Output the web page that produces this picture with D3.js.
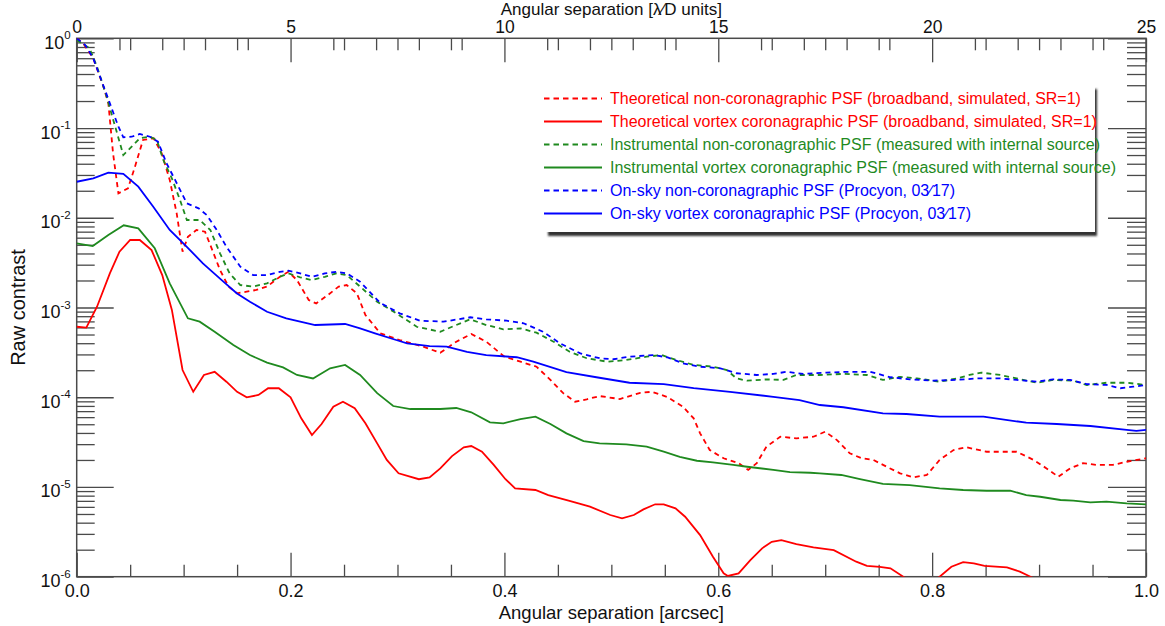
<!DOCTYPE html>
<html>
<head>
<meta charset="utf-8">
<script src="https://cdn.jsdelivr.net/npm/d3@7"></script>
<style>
  body { margin: 0; background: #fff; }
  svg { display: block; font-family: "Liberation Sans", Arial, Helvetica, sans-serif; }
  .axis path { display: none; }
  .axis line { stroke: #4a4a4a; stroke-width: 1.3; }
  .axis text { fill: #111; font-family: "Liberation Sans", Arial, sans-serif; }
</style>
</head>
<body>
<div id="chart"></div>
<script>
// values: [separation (arcsec), raw contrast]
var theoNonCoro = [[0,1.0],[0.006,0.88],[0.0155,0.598],[0.025,0.289],[0.0296,0.189],[0.034,0.0523],[0.039,0.0187],
  [0.048,0.0213],[0.0545,0.0371],[0.062,0.0736],[0.072,0.0769],[0.0795,0.0523],[0.087,0.0264],[0.0935,0.0112],
  [0.099,0.00419],[0.104,0.00615],[0.112,0.00731],[0.120,0.0070],[0.128,0.00402],[0.134,0.00262],[0.142,0.00171],
  [0.150,0.00144],[0.159,0.0015],[0.168,0.00157],[0.178,0.00171],[0.190,0.0022],[0.198,0.0025],[0.206,0.00202],
  [0.217,0.00121],[0.224,0.00111],[0.235,0.00138],[0.245,0.00171],[0.2525,0.00178],[0.262,0.00144],[0.270,8.24e-4],
  [0.284,5.15e-4],[0.302,4.34e-4],[0.324,3.66e-4],[0.340,3.13e-4],[0.355,4.16e-4],[0.369,5.07e-4],[0.383,4.16e-4],
  [0.400,2.83e-4],[0.415,2.49e-4],[0.430,2.19e-4],[0.443,1.56e-4],[0.455,1.11e-4],[0.466,8.91e-5],[0.477,9.48e-5],
  [0.489,1.03e-4],[0.508,9.55e-5],[0.527,1.12e-4],[0.538,1.15e-4],[0.552,1.01e-4],[0.567,7.84e-5],[0.577,5.82e-5],
  [0.583,3.96e-5],[0.592,2.58e-5],[0.605,2.09e-5],[0.619,1.84e-5],[0.628,1.55e-5],[0.636,1.84e-5],[0.645,2.81e-5],
  [0.658,3.63e-5],[0.673,3.48e-5],[0.689,3.63e-5],[0.700,4.13e-5],[0.711,3.33e-5],[0.723,2.37e-5],[0.734,2.09e-5],
  [0.745,2.0e-5],[0.7575,1.68e-5],[0.770,1.42e-5],[0.782,1.28e-5],[0.795,1.36e-5],[0.807,2.0e-5],[0.820,2.58e-5],
  [0.832,2.77e-5],[0.851,2.47e-5],[0.879,2.47e-5],[0.895,2.0e-5],[0.907,1.61e-5],[0.918,1.30e-5],[0.929,1.61e-5],
  [0.941,1.84e-5],[0.954,1.76e-5],[0.969,1.76e-5],[0.982,1.91e-5],[1.0,2.09e-5]];

var theoVortex = [[0,6.1e-4],[0.009,5.96e-4],[0.019,1.02e-3],[0.031,2.4e-3],[0.040,4.19e-3],[0.050,5.65e-3],
  [0.059,5.65e-3],[0.070,4.37e-3],[0.080,2.30e-3],[0.089,9.4e-4],[0.099,2.01e-4],[0.109,1.15e-4],[0.119,1.77e-4],
  [0.129,1.92e-4],[0.140,1.49e-4],[0.150,1.15e-4],[0.159,9.97e-5],[0.170,1.06e-4],[0.179,1.26e-4],[0.189,1.26e-4],
  [0.200,9.97e-5],[0.210,5.82e-5],[0.220,3.79e-5],[0.229,5.03e-5],[0.240,7.84e-5],[0.249,8.91e-5],[0.260,7.53e-5],
  [0.270,5.12e-5],[0.281,3.06e-5],[0.290,2.0e-5],[0.301,1.42e-5],[0.320,1.22e-5],[0.330,1.28e-5],[0.340,1.61e-5],
  [0.351,2.21e-5],[0.362,2.77e-5],[0.369,2.86e-5],[0.379,2.47e-5],[0.390,1.76e-5],[0.401,1.22e-5],[0.410,9.66e-6],
  [0.429,9.25e-6],[0.441,8.13e-6],[0.460,7.03e-6],[0.480,6.03e-6],[0.499,4.87e-6],[0.510,4.47e-6],[0.521,4.87e-6],
  [0.530,5.63e-6],[0.541,6.41e-6],[0.549,6.41e-6],[0.560,5.78e-6],[0.569,4.66e-6],[0.583,2.91e-6],[0.595,1.67e-6],
  [0.605,1.09e-6],[0.609,1.02e-6],[0.619,1.09e-6],[0.630,1.53e-6],[0.641,2.07e-6],[0.650,2.45e-6],[0.659,2.56e-6],
  [0.673,2.31e-6],[0.689,2.12e-6],[0.708,1.98e-6],[0.729,1.47e-6],[0.739,1.32e-6],[0.751,1.29e-6],[0.761,1.24e-6],
  [0.773,1.0e-6],[0.790,7.5e-7],[0.807,1.0e-6],[0.818,1.29e-6],[0.829,1.45e-6],[0.839,1.41e-6],[0.849,1.32e-6],
  [0.870,1.27e-6],[0.882,1.14e-6],[0.892,1.0e-6],[0.920,7e-7],[0.960,6e-7],[1.0,7e-7]];

var instNonCoro = [[0,0.957],[0.012,0.774],[0.019,0.483],[0.028,0.2235],[0.036,0.1035],[0.0436,0.050],[0.0514,0.0619],
  [0.059,0.0769],[0.0685,0.080],[0.075,0.0736],[0.081,0.044],[0.089,0.0275],[0.0966,0.0158],[0.103,0.00944],
  [0.115,0.00944],[0.125,0.00731],[0.134,0.00402],[0.143,0.0024],[0.153,0.00178],[0.165,0.00171],[0.178,0.00186],
  [0.190,0.0022],[0.198,0.0024],[0.209,0.00217],[0.220,0.00202],[0.232,0.0022],[0.243,0.0024],[0.2525,0.0023],
  [0.265,0.00171],[0.281,0.00116],[0.299,8.61e-4],[0.318,6.1e-4],[0.340,5.37e-4],[0.355,6.38e-4],[0.368,7.38e-4],
  [0.383,6.38e-4],[0.399,5.71e-4],[0.415,5.86e-4],[0.430,5.24e-4],[0.446,4.16e-4],[0.461,3.21e-4],[0.477,2.72e-4],
  [0.496,2.49e-4],[0.514,2.60e-4],[0.533,2.83e-4],[0.547,2.95e-4],[0.561,2.60e-4],[0.577,2.29e-4],[0.595,2.19e-4],
  [0.608,2.01e-4],[0.617,1.62e-4],[0.627,1.53e-4],[0.645,1.58e-4],[0.661,1.56e-4],[0.673,1.77e-4],[0.695,1.77e-4],
  [0.717,1.82e-4],[0.739,1.77e-4],[0.754,1.56e-4],[0.770,1.69e-4],[0.786,1.62e-4],[0.807,1.49e-4],[0.823,1.62e-4],
  [0.835,1.77e-4],[0.846,1.88e-4],[0.8635,1.77e-4],[0.879,1.62e-4],[0.898,1.45e-4],[0.913,1.56e-4],[0.932,1.53e-4],
  [0.9445,1.37e-4],[0.963,1.45e-4],[0.982,1.45e-4],[1.0,1.37e-4]];

var instVortex = [[0,5.19e-3],[0.015,4.84e-3],[0.0296,6.43e-3],[0.044,8.24e-3],[0.0576,7.63e-3],[0.073,4.57e-3],
  [0.087,1.86e-3],[0.104,7.58e-4],[0.115,6.95e-4],[0.129,5.37e-4],[0.1465,3.82e-4],[0.162,2.95e-4],[0.178,2.43e-4],
  [0.193,2.15e-4],[0.206,1.77e-4],[0.221,1.62e-4],[0.237,2.10e-4],[0.251,2.29e-4],[0.265,1.77e-4],[0.281,1.11e-4],
  [0.296,7.98e-5],[0.312,7.39e-5],[0.340,7.39e-5],[0.355,7.59e-5],[0.369,6.79e-5],[0.3865,5.25e-5],[0.399,5.12e-5],
  [0.415,5.71e-5],[0.429,6.07e-5],[0.443,5.03e-5],[0.458,3.96e-5],[0.474,3.25e-5],[0.489,3.06e-5],[0.514,2.99e-5],
  [0.533,2.81e-5],[0.549,2.47e-5],[0.564,2.17e-5],[0.580,1.96e-5],[0.595,1.88e-5],[0.614,1.76e-5],[0.627,1.68e-5],
  [0.6515,1.55e-5],[0.667,1.46e-5],[0.686,1.44e-5],[0.695,1.42e-5],[0.715,1.36e-5],[0.7325,1.22e-5],[0.754,1.08e-5],
  [0.779,1.05e-5],[0.807,9.66e-6],[0.829,9.25e-6],[0.851,9.08e-6],[0.873,9.08e-6],[0.888,8.13e-6],[0.901,7.78e-6],
  [0.920,7.16e-6],[0.932,7.03e-6],[0.948,6.75e-6],[0.963,6.85e-6],[0.982,6.58e-6],[1.0,6.41e-6]];

var skyNonCoro = [[0,1.0],[0.008,0.842],[0.0155,0.598],[0.023,0.343],[0.031,0.189],[0.039,0.1035],[0.0436,0.0789],
  [0.0514,0.080],[0.059,0.0858],[0.0685,0.080],[0.076,0.0704],[0.084,0.0405],[0.092,0.0264],[0.103,0.0145],
  [0.114,0.01274],[0.1216,0.01074],[0.131,0.00731],[0.140,0.00475],[0.153,0.00285],[0.165,0.0023],[0.178,0.0023],
  [0.190,0.0025],[0.198,0.00257],[0.209,0.0024],[0.220,0.0022],[0.232,0.0024],[0.243,0.0025],[0.2525,0.0024],
  [0.265,0.00194],[0.2836,1.13e-3],[0.302,8.61e-4],[0.321,7.13e-4],[0.343,6.95e-4],[0.368,7.78e-4],[0.383,7.38e-4],
  [0.402,7.13e-4],[0.418,6.67e-4],[0.436,5.37e-4],[0.452,3.99e-4],[0.471,3.08e-4],[0.489,2.72e-4],[0.502,2.65e-4],
  [0.517,2.83e-4],[0.539,2.95e-4],[0.552,2.79e-4],[0.567,2.39e-4],[0.583,2.19e-4],[0.602,2.10e-4],[0.617,1.85e-4],
  [0.636,1.77e-4],[0.6515,1.82e-4],[0.664,1.92e-4],[0.6795,1.82e-4],[0.701,1.88e-4],[0.720,1.92e-4],[0.742,1.92e-4],
  [0.761,1.67e-4],[0.779,1.58e-4],[0.801,1.53e-4],[0.823,1.56e-4],[0.842,1.62e-4],[0.8635,1.62e-4],[0.879,1.56e-4],
  [0.898,1.49e-4],[0.913,1.58e-4],[0.929,1.56e-4],[0.9445,1.40e-4],[0.963,1.37e-4],[0.976,1.26e-4],[0.988,1.31e-4],
  [1.0,1.37e-4]];

var skyVortex = [[0,0.0252],[0.0155,0.0275],[0.0296,0.0318],[0.0436,0.0308],[0.0576,0.0222],[0.0716,0.01327],
  [0.087,0.00731],[0.103,0.00475],[0.118,0.0031],[0.1356,0.00202],[0.1496,0.00144],[0.162,0.00116],[0.178,8.97e-4],
  [0.196,7.58e-4],[0.209,6.95e-4],[0.223,6.38e-4],[0.251,6.55e-4],[0.265,5.86e-4],[0.279,5.15e-4],[0.301,4.26e-4],
  [0.309,3.99e-4],[0.330,3.72e-4],[0.346,3.66e-4],[0.365,3.21e-4],[0.383,2.95e-4],[0.4115,2.79e-4],[0.427,2.49e-4],
  [0.458,1.90e-4],[0.486,1.67e-4],[0.517,1.45e-4],[0.549,1.40e-4],[0.577,1.26e-4],[0.611,1.15e-4],[0.6515,1.01e-4],
  [0.676,9.31e-5],[0.695,8.19e-5],[0.717,7.73e-5],[0.754,6.62e-5],[0.776,6.50e-5],[0.807,6.07e-5],[0.848,6.07e-5],
  [0.888,5.20e-5],[0.9165,5.03e-5],[0.948,4.78e-5],[0.982,4.32e-5],[0.991,4.21e-5],[1.0,4.32e-5]];

var seriesData = [theoNonCoro, theoVortex, instNonCoro, instVortex, skyNonCoro, skyVortex];
var legendLabels = [
  'Theoretical non-coronagraphic PSF (broadband, simulated, SR=1)',
  'Theoretical vortex coronagraphic PSF (broadband, simulated, SR=1)',
  'Instrumental non-coronagraphic PSF (measured with internal source)',
  'Instrumental vortex coronagraphic PSF (measured with internal source)',
  'On-sky non-coronagraphic PSF (Procyon, 03\u221517)',
  'On-sky vortex coronagraphic PSF (Procyon, 03\u221517)'
];
var seriesColors = ['#ff0000', '#ff0000', '#1f8a1f', '#1f8a1f', '#0000ff', '#0000ff'];
var seriesDashed = [true, false, true, false, true, false];

var xMajorTicks = [0, 0.2, 0.4, 0.6, 0.8, 1.0];
var topMajorTicks = [0, 5, 10, 15, 20, 25];
var yDecades = [1e-6, 1e-5, 1e-4, 1e-3, 1e-2, 1e-1, 1];

var width = 1165, height = 626;
var x0 = 76.7, x1 = 1146, y0 = 38.3, y1 = 576.7;

var svg = d3.select('#chart')
  .append('svg')
  .attr('width', width)
  .attr('height', height);

var x = d3.scaleLinear().domain([0, 1]).range([x0, x1]);
var xLd = d3.scaleLinear().domain([0, 25]).range([x0, x1]);
var y = d3.scaleLog().domain([1e-6, 1]).range([y1, y0]);

// minor tick values
var xMinor = d3.range(1, 20).map(function(i) { return i * 0.05; })
  .filter(function(d, i) { return (i + 1) % 4 !== 0; });
var ldMinor = d3.range(1, 25).filter(function(d) { return d % 5 !== 0; });
var yMinor = [];
for (var k = -6; k < 0; k++) {
  for (var m = 2; m <= 9; m++) yMinor.push(m * Math.pow(10, k));
}

// bottom axis (arcsec)
var bottom = svg.append('g').attr('class', 'axis').attr('transform', 'translate(0,' + y1 + ')');
bottom.call(d3.axisBottom(x).tickValues(xMinor).tickSizeInner(-12).tickSizeOuter(0).tickFormat(''));
var bottomMajor = svg.append('g').attr('class', 'axis').attr('transform', 'translate(0,' + y1 + ')');
bottomMajor.call(d3.axisBottom(x).tickValues(xMajorTicks).tickSizeInner(-24).tickSizeOuter(0)
  .tickPadding(7.5).tickFormat(d3.format('.1f')));
bottomMajor.attr('font-size', 18);

// top axis (lambda/D) plus mirrored arcsec minor ticks
var topMirror = svg.append('g').attr('class', 'axis').attr('transform', 'translate(0,' + y0 + ')');
topMirror.call(d3.axisTop(x).tickValues(xMinor).tickSizeInner(-12).tickSizeOuter(0).tickFormat(''));
var topMinor = svg.append('g').attr('class', 'axis').attr('transform', 'translate(0,' + y0 + ')');
topMinor.call(d3.axisTop(xLd).tickValues(ldMinor).tickSizeInner(-12).tickSizeOuter(0).tickFormat(''));
var topMajor = svg.append('g').attr('class', 'axis').attr('transform', 'translate(0,' + y0 + ')');
topMajor.call(d3.axisTop(xLd).tickValues(topMajorTicks).tickSizeInner(-24).tickSizeOuter(0)
  .tickPadding(5).tickFormat(d3.format('d')));
topMajor.attr('font-size', 17.5);

// left axis
var left = svg.append('g').attr('class', 'axis').attr('transform', 'translate(' + x0 + ',0)');
left.call(d3.axisLeft(y).tickValues(yMinor).tickSizeInner(-18).tickSizeOuter(0).tickFormat(''));
var leftMajor = svg.append('g').attr('class', 'axis').attr('transform', 'translate(' + x0 + ',0)');
leftMajor.call(d3.axisLeft(y).tickValues(yDecades).tickSizeInner(-37).tickSizeOuter(0).tickFormat(''));
leftMajor.selectAll('.tick text').remove();
leftMajor.selectAll('.tick').append('text')
  .attr('x', -6)
  .attr('dy', 10)
  .attr('text-anchor', 'end')
  .attr('font-size', 18)
  .each(function(d) {
    var t = d3.select(this);
    t.append('tspan').text('10');
    t.append('tspan').attr('dy', -9.5).attr('font-size', 11.5).text(Math.round(Math.log10(d)));
  });

// right axis (ticks only)
var right = svg.append('g').attr('class', 'axis').attr('transform', 'translate(' + x1 + ',0)');
right.call(d3.axisRight(y).tickValues(yMinor).tickSizeInner(-19).tickSizeOuter(0).tickFormat(''));
var rightMajor = svg.append('g').attr('class', 'axis').attr('transform', 'translate(' + x1 + ',0)');
rightMajor.call(d3.axisRight(y).tickValues(yDecades).tickSizeInner(-38).tickSizeOuter(0).tickFormat(''));

// frame
svg.append('rect')
  .attr('x', x0).attr('y', y0)
  .attr('width', x1 - x0).attr('height', y1 - y0)
  .attr('fill', 'none')
  .attr('stroke', '#4a4a4a')
  .attr('stroke-width', 1.5);

// titles
svg.append('text')
  .attr('x', (x0 + x1) / 2).attr('y', 618.5)
  .attr('text-anchor', 'middle').attr('font-size', 18.5).attr('fill', '#111')
  .text('Angular separation [arcsec]');

svg.append('text')
  .attr('x', (x0 + x1) / 2).attr('y', 15)
  .attr('text-anchor', 'middle').attr('font-size', 17).attr('fill', '#111')
  .text('Angular separation [\u03BB\u2215D units]');

svg.append('text')
  .attr('transform', 'translate(25,' + ((y0 + y1) / 2) + ') rotate(-90)')
  .attr('text-anchor', 'middle').attr('font-size', 20).attr('fill', '#111')
  .text('Raw contrast');

// curves
svg.append('clipPath').attr('id', 'plot-clip')
  .append('rect')
  .attr('x', x0).attr('y', y0)
  .attr('width', x1 - x0).attr('height', y1 - y0);

var line = d3.line()
  .x(function(d) { return x(d[0]); })
  .y(function(d) { return y(d[1]); });

svg.append('g')
  .attr('clip-path', 'url(#plot-clip)')
  .selectAll('path')
  .data(seriesData)
  .enter()
  .append('path')
  .attr('d', line)
  .attr('fill', 'none')
  .attr('stroke', function(d, i) { return seriesColors[i]; })
  .attr('stroke-width', 1.8)
  .attr('stroke-dasharray', function(d, i) { return seriesDashed[i] ? '5,4' : null; });

// legend
var defs = svg.append('defs');
defs.append('filter').attr('id', 'shadow').attr('x', '-5%').attr('y', '-5%').attr('width', '110%').attr('height', '120%')
  .append('feGaussianBlur').attr('stdDeviation', 1.1);

var legendBox = {x: 538, y: 85, w: 557, h: 147};
svg.append('rect')
  .attr('x', legendBox.x + 10).attr('y', legendBox.y + 4)
  .attr('width', legendBox.w - 8).attr('height', legendBox.h)
  .attr('fill', '#333')
  .attr('filter', 'url(#shadow)');
svg.append('rect')
  .attr('x', legendBox.x).attr('y', legendBox.y)
  .attr('width', legendBox.w).attr('height', legendBox.h)
  .attr('fill', '#fff');

var legend = svg.append('g')
  .selectAll('g')
  .data(legendLabels)
  .enter()
  .append('g')
  .attr('transform', function(d, i) { return 'translate(544,' + (98.5 + i * 23) + ')'; });

legend.append('line')
  .attr('x1', 0).attr('x2', 58)
  .attr('stroke', function(d, i) { return seriesColors[i]; })
  .attr('stroke-width', 1.8)
  .attr('stroke-dasharray', function(d, i) { return seriesDashed[i] ? '5.5,4' : null; });

legend.append('text')
  .attr('x', 66)
  .attr('dy', '0.36em')
  .attr('font-size', 16)
  .attr('fill', function(d, i) { return seriesColors[i]; })
  .text(function(d) { return d; });
</script>
</body>
</html>
